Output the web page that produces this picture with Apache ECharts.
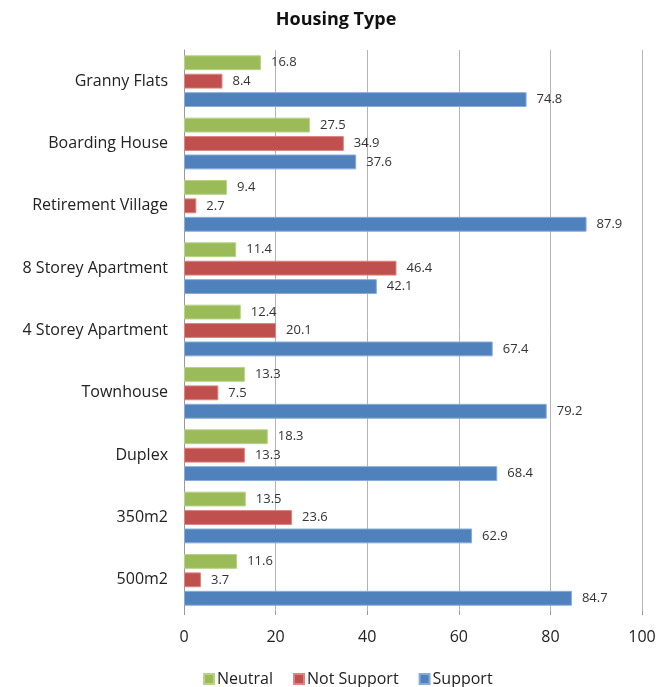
<!DOCTYPE html>
<html><head><meta charset="utf-8">
<script src="https://cdn.jsdelivr.net/npm/echarts@6/dist/echarts.min.js"></script>
<style>html,body{margin:0;padding:0;background:#fff}#c{width:672px;height:687px}</style>
</head><body><div id="c"></div>
<script>
const categories = ["Granny Flats","Boarding House","Retirement Village","8 Storey Apartment","4 Storey Apartment","Townhouse","Duplex","350m2","500m2"];
const neutral = [16.8,27.5,9.4,11.4,12.4,13.3,18.3,13.5,11.6];
const notSupport = [8.4,34.9,2.7,46.4,20.1,7.5,13.3,23.6,3.7];
const support = [74.8,37.6,87.9,42.1,67.4,79.2,68.4,62.9,84.7];
const xTicks = [0,20,40,60,80,100];

const FONT = '"Open Sans", sans-serif';
const chart = echarts.init(document.getElementById('c'));
const lbl = {show:true, position:'right', distance:10, color:'#333', fontSize:13, fontFamily:FONT, formatter:p=>p.value.toFixed(1)};
function s(name, data, color, edge){
  return {name, type:'bar', data, barGap:'24%', barCategoryGap:'17%',
    itemStyle:{color, borderColor:edge, borderWidth:1}, label:lbl};
}
chart.setOption({
  animation:false,
  title:{text:'Housing Type', left:'center', top:6, textStyle:{fontFamily:FONT, fontSize:18, fontWeight:'bold', color:'#111'}},
  legend:{top:666, left:198, itemWidth:10, itemHeight:10, itemGap:20, icon:'rect',
    textStyle:{fontFamily:FONT, fontSize:16, color:'#222', padding:[0,0,0,-2]}, data:['Neutral','Not Support','Support']},
  grid:{left:184, right:30, top:50, bottom:76, containLabel:false},
  xAxis:{type:'value', min:xTicks[0], max:xTicks[xTicks.length-1], interval:20,
    axisLine:{show:false}, axisTick:{show:true, length:4, lineStyle:{color:'#999'}},
    axisLabel:{fontFamily:FONT, fontSize:16, color:'#222', margin:18},
    splitLine:{show:true, lineStyle:{color:'#b4b4b4', width:1}}},
  yAxis:{type:'category', data:categories, inverse:true,
    axisLine:{show:true, lineStyle:{color:'#999'}}, axisTick:{show:false},
    axisLabel:{fontFamily:FONT, fontSize:16, color:'#222', margin:16}},
  series:[s('Neutral',neutral,'#9BBB59','#b9d38a'), s('Not Support',notSupport,'#C0504D','#d98583'), s('Support',support,'#4F81BD','#89acd6')]
});
</script></body></html>
